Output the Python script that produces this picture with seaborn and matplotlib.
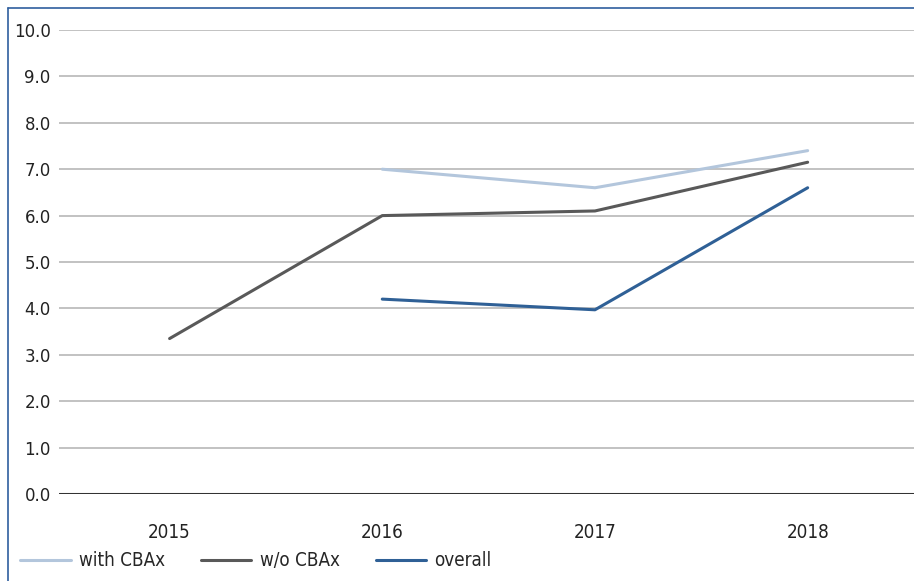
import numpy as np
import pandas as pd
import matplotlib
matplotlib.use("Agg")
import matplotlib.pyplot as plt
from matplotlib.lines import Line2D
from matplotlib.font_manager import FontProperties
import seaborn as sns

years = ["2015", "2016", "2017", "2018"]
with_cbax = [np.nan, 7.0, 6.6, 7.4]
without_cbax = [3.35, 6.0, 6.1, 7.15]
overall = [np.nan, 4.2, 3.97, 6.6]
series_names = ["with CBAx", "w/o CBAx", "overall"]
y_ticks = [0.0, 1.0, 2.0, 3.0, 4.0, 5.0, 6.0, 7.0, 8.0, 9.0, 10.0]

colors = {"with CBAx": "#b3c6dc", "w/o CBAx": "#595959", "overall": "#2f6096"}

df = pd.DataFrame({
    "year": years * 3,
    "value": with_cbax + without_cbax + overall,
    "series": [s for s in series_names for _ in years],
})

sns.set_theme(style="white")
plt.rcParams["font.family"] = ["DejaVu Sans"]

narrow = FontProperties(family="DejaVu Sans", stretch="condensed", size=13.5)

fig = plt.figure(figsize=(9.14, 5.81), dpi=100)
ax = fig.add_axes([59 / 914, 1 - 494 / 581, 1 - 59 / 914, (494 - 30) / 581])

sns.lineplot(data=df, x="year", y="value", hue="series", hue_order=series_names,
             palette=colors, linewidth=2.2, ax=ax, legend=False, sort=False)

ax.set_xlim(-0.52, 3.5)
ax.set_ylim(0, 10)
ax.set_yticks(y_ticks)
ax.set_yticklabels([f"{v:.1f}" for v in y_ticks], fontsize=12, color="#222222")
ax.set_xticks(range(len(years)))
ax.set_xticklabels(years, fontproperties=narrow, color="#222222")
ax.tick_params(axis="y", length=0, pad=6)
ax.tick_params(axis="x", length=0, pad=21)
ax.set_xlabel("")
ax.set_ylabel("")
for s in ax.spines.values():
    s.set_visible(False)
for v in y_ticks[1:]:
    ax.axhline(v, color="#bdbdbd", linewidth=1.3, zorder=0)
ax.axhline(0, color="#333333", linewidth=2.2, zorder=1)

handles = [Line2D([], [], color=colors[s], linewidth=2.2) for s in series_names]
fig.legend(handles, series_names, loc="center left",
           bbox_to_anchor=(20 / 914, 1 - 561 / 581), ncol=3, frameon=False,
           borderpad=0, borderaxespad=0, handlelength=2.7, handletextpad=0.45,
           columnspacing=1.9, prop=narrow)

# frame lines along the left and top edges
fig.add_artist(Line2D([8 / 914, 8 / 914], [0, 1 - 8 / 581], color="#2f5f9e", linewidth=1.2))
fig.add_artist(Line2D([8 / 914, 1], [1 - 8 / 581, 1 - 8 / 581], color="#2f5f9e", linewidth=1.2))

fig.savefig("out.png", dpi=100)
